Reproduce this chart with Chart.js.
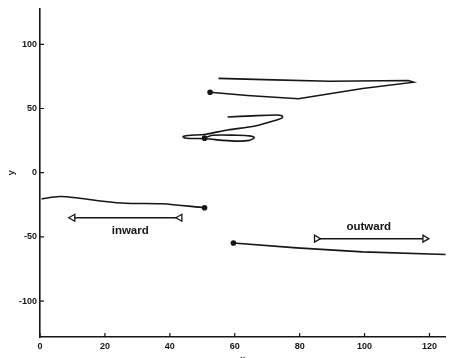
<!DOCTYPE html>
<html>
<head>
<meta charset="utf-8">
<script src="https://cdn.jsdelivr.net/npm/chart.js@4/dist/chart.umd.min.js"></script>
<style>
  html, body { margin: 0; padding: 0; background: #fff; }
  #wrap { width: 451px; height: 358px; }
</style>
</head>
<body>
<div id="wrap"><canvas id="plot" width="451" height="358"></canvas></div>
<script>
// Axis ticks
const xTicks = [0, 20, 40, 60, 80, 100, 120];
const yTicks = [-100, -50, 0, 50, 100];

// Upper track (starts at the dot, loops right and back)
const upperX = [52.4, 63.9, 79.6, 99.4, 115.1, 113.5, 89.1, 69.0, 55.0];
const upperY = [62.7, 60.2, 57.6, 65.6, 70.5, 71.8, 71.3, 72.5, 73.5];

// Middle track (tangled loop around the dot)
const middleX = [50.7, 53.2, 60.8, 64.5, 66.0, 64.5, 60.8, 56.3, 51.1, 46.2, 44.4, 44.1, 45.6, 51.1, 57.8, 66.3, 73.0, 74.7, 74.5, 73.0, 65.4, 57.8];
const middleY = [26.9, 29.2, 29.2, 28.7, 27.3, 25.2, 24.6, 25.2, 26.5, 26.7, 27.3, 28.3, 29.0, 30.0, 33.3, 36.4, 41.1, 42.8, 44.3, 44.9, 44.3, 43.4];

// Inward track
const inwardX = [0.5, 6.1, 12.2, 19.3, 26.4, 37.5, 50.7];
const inwardY = [-20.4, -18.6, -19.9, -22.2, -23.8, -24.2, -27.3];

// Outward track
const outwardX = [59.6, 79.1, 99.4, 125];
const outwardY = [-54.8, -58.6, -61.7, -63.7];

// Marked positions
const dotX = [52.4, 50.7, 50.7, 59.6];
const dotY = [62.7, 26.9, -27.3, -54.8];

// Direction arrows: [x start, x end, y]
const inwardArrow = [10.1, 43.1, -35.1];
const outwardArrow = [85.2, 118.6, -51.4];

// Annotation labels: [text, x, y]
const notes = [
  ['inward', 27.8, -45.2],
  ['outward', 101.3, -42.0]
];

const INK = '#161616';
const FAMILY = '"Liberation Sans", Arial, sans-serif';
const toPts = (xs, ys) => xs.map((x, i) => ({ x: x, y: ys[i] }));

function track(xs, ys, tension) {
  return {
    data: toPts(xs, ys),
    showLine: true,
    borderColor: INK,
    borderWidth: 1.6,
    pointRadius: 0,
    tension: tension
  };
}

function arrow(a, rot) {
  return {
    data: [{ x: a[0], y: a[2] }, { x: a[1], y: a[2] }],
    showLine: true,
    borderColor: INK,
    borderWidth: 1.6,
    pointStyle: 'triangle',
    pointRotation: rot,
    pointRadius: 4,
    pointBorderWidth: 1.3,
    pointBackgroundColor: '#fff',
    pointBorderColor: INK
  };
}

// Inward tick marks and the in-plot labels
const decorations = {
  id: 'decorations',
  afterDraw(chart) {
    const { ctx, chartArea } = chart;
    const sx = chart.scales.x, sy = chart.scales.y;
    ctx.save();
    ctx.strokeStyle = INK;
    ctx.lineWidth = 1.2;
    ctx.beginPath();
    xTicks.forEach(v => {
      const px = sx.getPixelForValue(v);
      ctx.moveTo(px, chartArea.bottom);
      ctx.lineTo(px, chartArea.bottom - 4);
    });
    yTicks.forEach(v => {
      const py = sy.getPixelForValue(v);
      ctx.moveTo(chartArea.left, py);
      ctx.lineTo(chartArea.left + 4, py);
    });
    ctx.stroke();
    ctx.fillStyle = INK;
    ctx.font = 'bold 11.5px ' + FAMILY;
    ctx.textAlign = 'center';
    ctx.textBaseline = 'middle';
    notes.forEach(n => {
      ctx.fillText(n[0], sx.getPixelForValue(n[1]), sy.getPixelForValue(n[2]));
    });
    ctx.restore();
  }
};

const tickFont = { family: FAMILY, size: 9, weight: 'bold' };

new Chart(document.getElementById('plot'), {
  type: 'scatter',
  data: {
    datasets: [
      track(upperX, upperY, 0),
      track(middleX, middleY, 0.3),
      track(inwardX, inwardY, 0.3),
      track(outwardX, outwardY, 0),
      arrow(inwardArrow, -90),
      arrow(outwardArrow, 90),
      {
        data: toPts(dotX, dotY),
        showLine: false,
        pointRadius: 2.8,
        pointBackgroundColor: INK,
        pointBorderColor: INK,
        pointBorderWidth: 0
      }
    ]
  },
  options: {
    responsive: false,
    animation: false,
    devicePixelRatio: 1,
    events: [],
    layout: { padding: { top: 7, right: 0, left: 0, bottom: 0 } },
    plugins: { legend: { display: false }, tooltip: { enabled: false } },
    scales: {
      x: {
        type: 'linear',
        position: 'bottom',
        min: 0,
        max: 125,
        afterBuildTicks: s => { s.ticks = xTicks.map(v => ({ value: v })); },
        afterFit: s => { s.height = 21; },
        grid: { drawOnChartArea: false, drawTicks: false },
        border: { display: true, color: INK, width: 1.6 },
        ticks: { color: INK, font: tickFont, padding: 4, maxRotation: 0 },
        title: { display: true, text: 'x', color: INK, font: tickFont, padding: { top: 0, bottom: -7 } }
      },
      y: {
        type: 'linear',
        position: 'left',
        min: -128,
        max: 128,
        afterBuildTicks: s => { s.ticks = yTicks.map(v => ({ value: v })); },
        afterFit: s => { s.width = 40; },
        grid: { drawOnChartArea: false, drawTicks: false },
        border: { display: true, color: INK, width: 1.6 },
        ticks: { color: INK, font: tickFont, padding: 3 },
        title: { display: true, text: 'y', color: INK, font: tickFont, padding: { top: 6, bottom: 0 } }
      }
    }
  },
  plugins: [decorations]
});
</script>
</body>
</html>
